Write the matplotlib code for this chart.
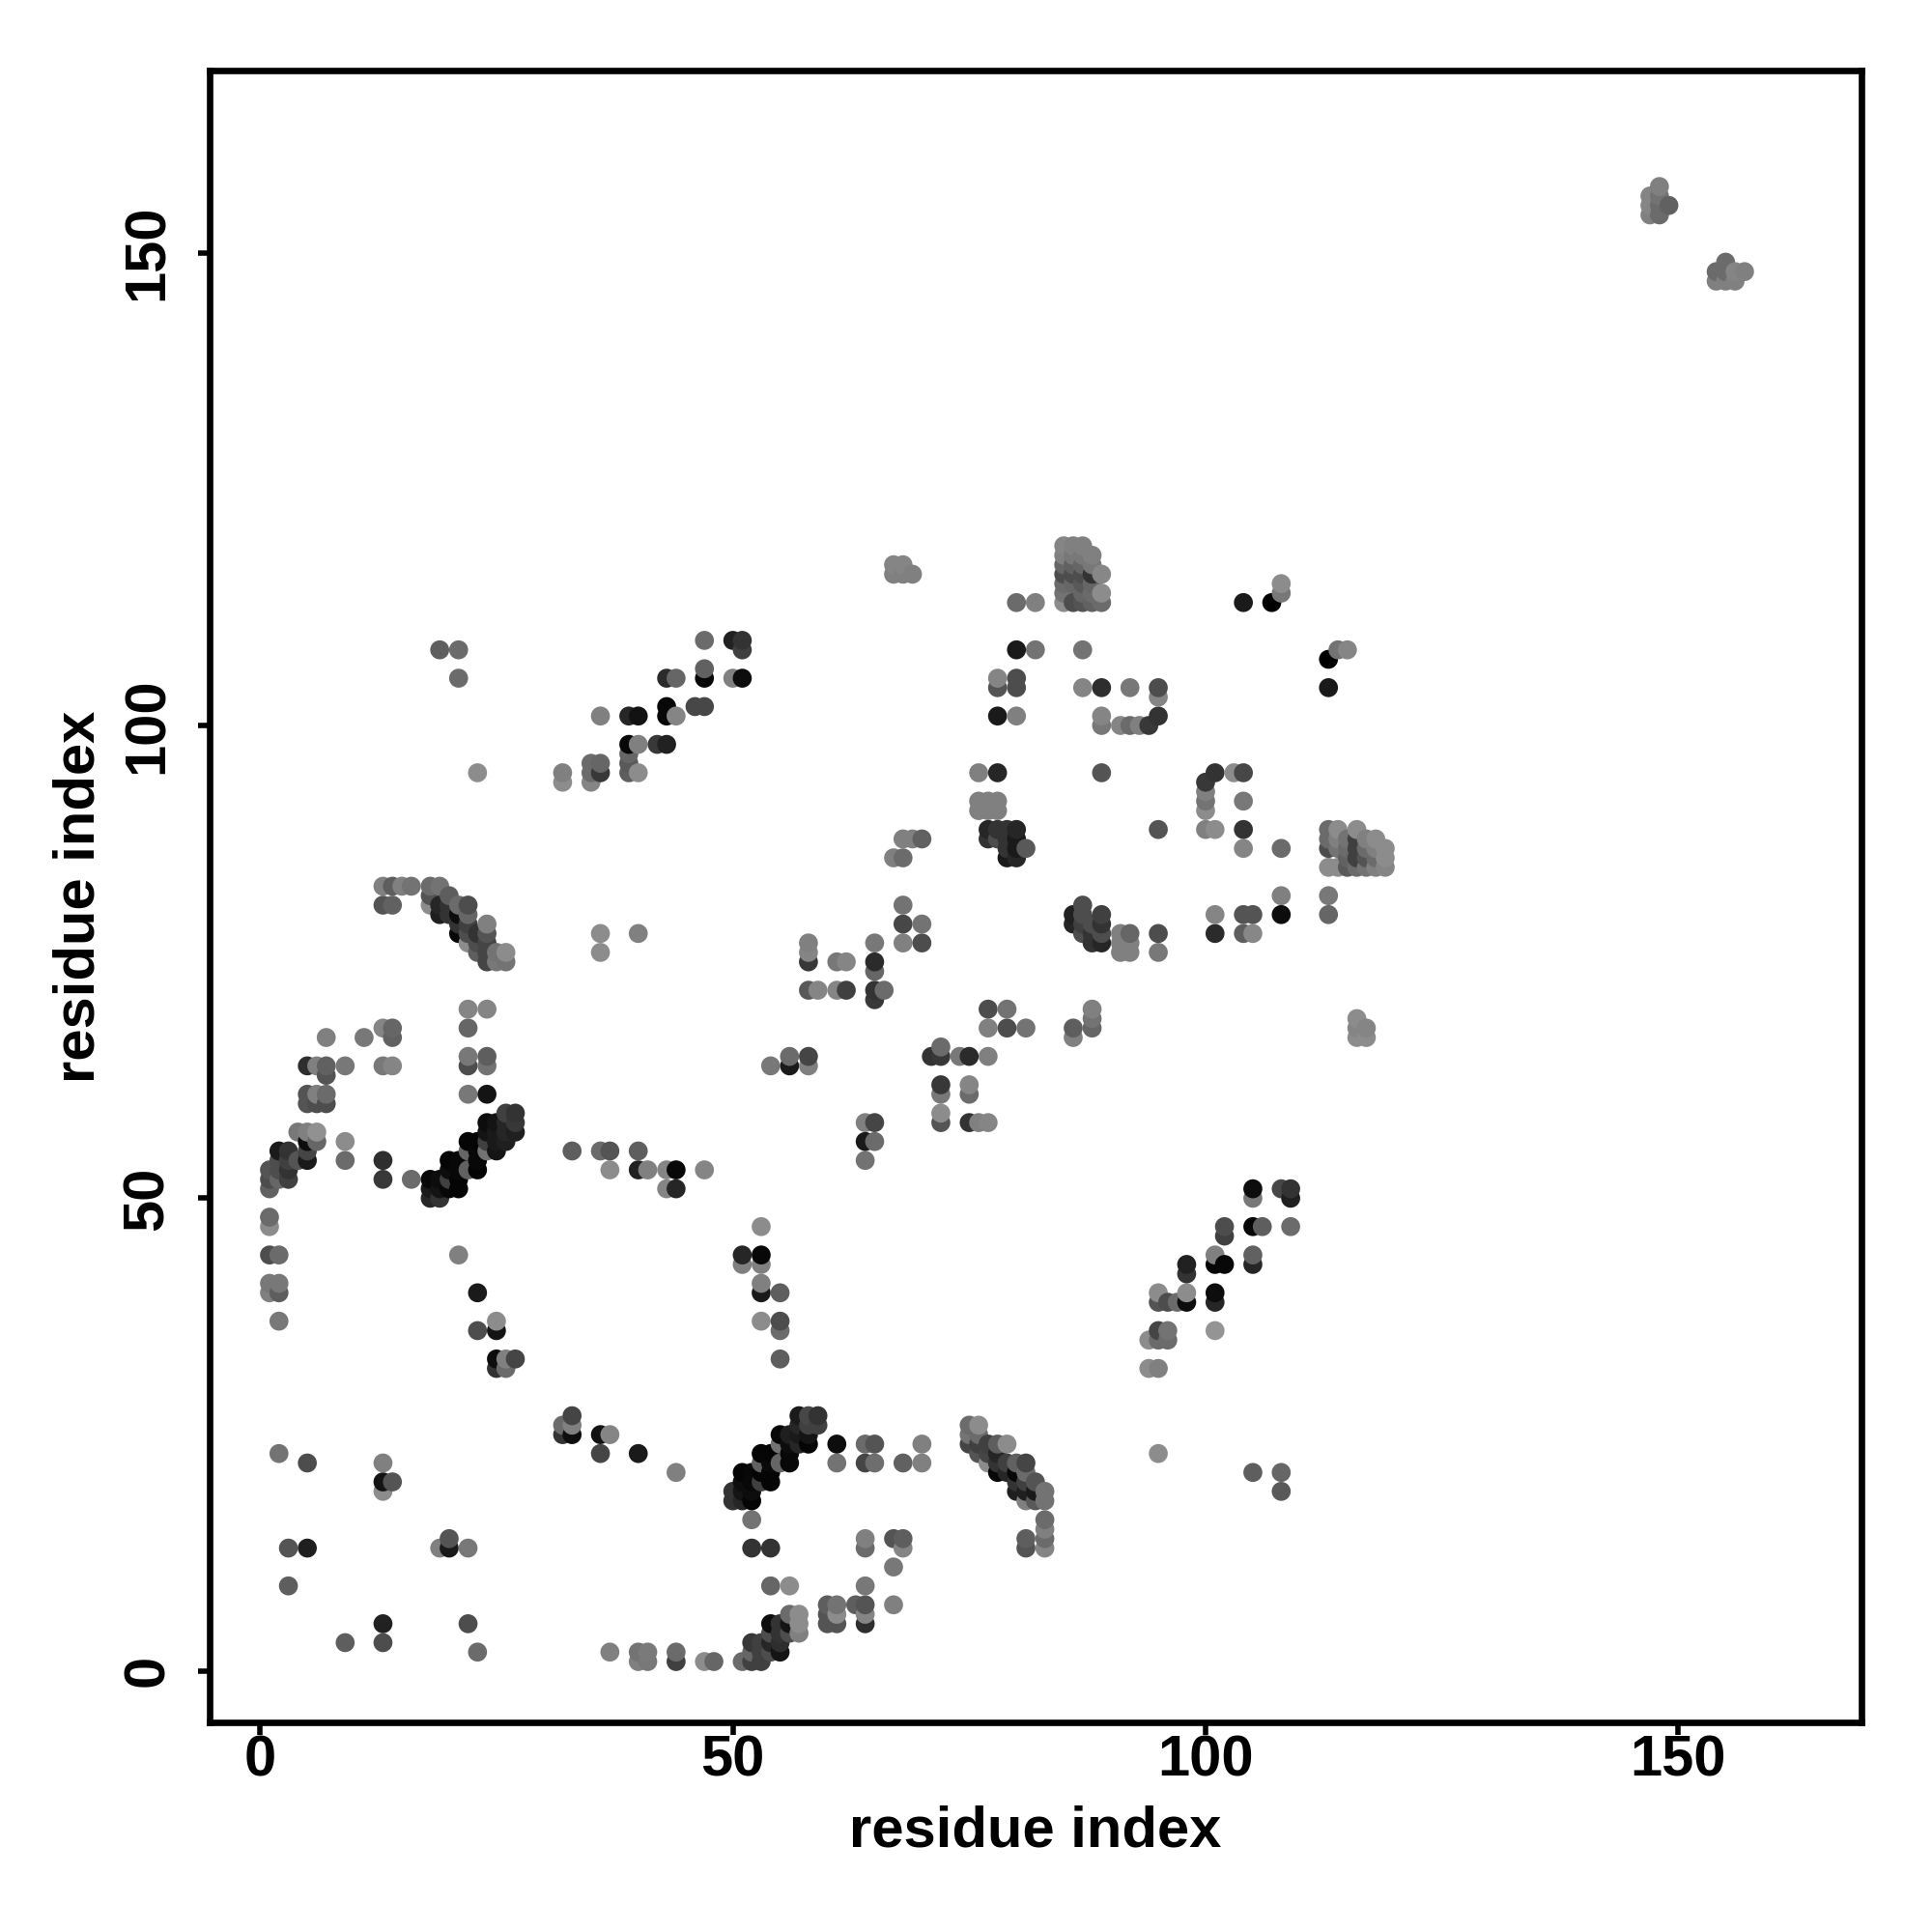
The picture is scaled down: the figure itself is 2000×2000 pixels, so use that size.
#!/usr/bin/env python3
"""Residue contact map, grey dots (x residue, y residue, grey level)."""
import matplotlib
matplotlib.use('Agg')
import matplotlib.pyplot as plt
import numpy as np

# ---- contacts by region: (residue i, residue j, grey level) ----
bottom_left = [
    (1, 48, .42), (1, 47, .55), (1, 44, .3), (2, 44, .42), (1, 41, .47), (2, 41, .47), (1, 40, .5), (2, 40, .37),
    (2, 37, .47), (21, 44, .5), (23, 40, .1), (23, 36, .3), (25, 37, .55), (25, 36, .08), (25, 33, .05), (25, 32, .2),
    (26, 33, .5), (26, 32, .42), (27, 33, .27), (2, 23, .45), (5, 22, .3), (13, 22, .5), (13, 20, .08), (14, 20, .33),
    (13, 19, .55), (3, 13, .33), (5, 13, .12), (20, 14, .33), (20, 13, .1), (19, 13, .5), (22, 13, .47), (3, 9, .37),
    (13, 5, .13), (13, 3, .3), (9, 3, .37), (22, 5, .3), (23, 2, .42),
]
upper_diag = [
    (13, 83, .5), (14, 83, .37), (15, 83, .5), (16, 83, .45), (18, 83, .42), (19, 83, .45), (13, 81, .33), (14, 81, .38),
    (20, 82, .37), (18, 82, .33), (18, 81, .55), (19, 81, .15), (20, 81, .2), (21, 81, .42), (22, 81, .3), (19, 80, .12),
    (20, 80, .2), (21, 80, .05), (22, 80, .4), (24, 79, .5), (21, 79, .2), (22, 79, .25), (21, 78, .03), (22, 78, .3),
    (23, 78, .2), (24, 78, .33), (22, 77, .55), (23, 77, .3), (24, 77, .27), (23, 76, .37), (24, 76, .27), (25, 76, .45),
    (26, 76, .55), (24, 75, .27), (25, 75, .47), (26, 75, .45),
]
left_mid = [
    (7, 67, .5), (11, 67, .47), (13, 68, .52), (14, 68, .4), (14, 67, .38), (5, 64, .18), (6, 64, .5), (7, 64, .38),
    (9, 64, .47), (13, 64, .47), (14, 64, .52), (7, 63, .33), (5, 61, .33), (6, 61, .5), (7, 61, .42), (5, 60, .33),
    (6, 60, .3), (7, 60, .3), (22, 70, .52), (24, 70, .52), (22, 68, .4), (22, 65, .47), (24, 65, .37), (22, 64, .3),
    (24, 64, .45), (22, 61, .47), (24, 61, .08),
    (4, 57, .47), (5, 57, .5), (6, 57, .57), (5, 56, .05), (6, 56, .4), (9, 56, .55), (2, 55, .1), (3, 55, .2),
    (5, 55, .27), (2, 54, .3), (3, 54, .25), (4, 54, .33), (5, 54, .1), (9, 54, .42), (13, 54, .18), (1, 53, .33),
    (2, 53, .3), (3, 53, .2), (1, 52, .3), (2, 52, .4), (3, 52, .25), (13, 52, .22), (16, 52, .42), (1, 51, .38),
]
black_band_a = [
    (26, 59, .25), (27, 59, .2), (24, 58, .05), (25, 58, .08), (26, 58, .15), (27, 58, .22), (24, 57, .08), (25, 57, .1),
    (26, 57, .15), (27, 57, .12), (22, 56, .02), (23, 56, .02), (24, 56, .25), (25, 56, .1), (26, 56, .12), (22, 55, .4),
    (23, 55, .03), (24, 55, .45), (25, 55, .08), (20, 54, .02), (21, 54, .03), (23, 54, .03), (20, 53, .05), (21, 53, .03),
    (22, 53, .38), (23, 53, .02), (18, 52, .03), (19, 52, .05), (20, 52, .25), (21, 52, .02), (18, 51, .1), (19, 51, .08),
    (20, 51, .03), (21, 51, .02), (18, 50, .15), (19, 50, .2),
]
strand_33_61 = [
    (33, 27, .27), (32, 26, .42), (33, 26, .5), (32, 25, .2), (33, 25, .05), (36, 25, .07), (37, 25, .52), (36, 23, .27),
    (40, 23, .1), (44, 21, .5), (52, 16, .45), (52, 13, .2), (54, 13, .2), (61, 24, .05), (61, 22, .45), (54, 9, .4),
    (56, 9, .55),
]
black_band_b = [
    (57, 27, .1), (58, 27, .28), (59, 27, .2), (57, 26, .15), (58, 26, .25), (59, 26, .25), (55, 25, .03), (56, 25, .12),
    (57, 25, .1), (58, 25, .08), (55, 24, .45), (56, 24, .05), (57, 24, .15), (58, 24, .02), (53, 23, .02), (54, 23, .02),
    (56, 23, .03), (53, 22, .38), (54, 22, .04), (55, 22, .4), (56, 22, .03), (51, 21, .02), (52, 21, .03), (53, 21, .02),
    (54, 21, .02), (51, 20, .05), (52, 20, .03), (53, 20, .25), (54, 20, .02), (50, 19, .2), (51, 19, .08), (52, 19, .05),
    (50, 18, .2), (51, 18, .15), (52, 18, .02),
]
bottom_strand = [
    (37, 2, .5), (40, 2, .45), (41, 2, .48), (44, 2, .42), (40, 1, .5), (41, 1, .47), (44, 1, .25), (47, 1, .55),
    (48, 1, .4), (51, 1, .42), (52, 1, .25), (53, 1, .25), (52, 2, .4), (53, 2, .25), (54, 2, .3), (55, 2, .08),
    (52, 3, .22), (53, 3, .25), (54, 3, .15), (55, 3, .18), (54, 4, .3), (55, 4, .2), (56, 4, .3), (57, 4, .5),
    (54, 5, .05), (55, 5, .2), (56, 5, .08), (57, 5, .55), (56, 6, .42), (57, 6, .55), (60, 7, .37), (61, 7, .45),
    (60, 6, .33), (61, 6, .55), (60, 5, .33), (61, 5, .33),
    (64, 24, .42), (65, 24, .33), (64, 22, .27), (65, 22, .43), (68, 22, .38), (70, 24, .5), (70, 22, .5), (64, 14, .5),
    (64, 13, .42), (67, 14, .33), (68, 14, .37), (68, 13, .52), (67, 11, .47), (64, 9, .47), (63, 7, .37), (64, 7, .33),
    (64, 6, .52), (64, 5, .18), (67, 7, .5),
]
hook_75_83 = [
    (75, 26, .42), (76, 26, .55), (75, 25, .45), (76, 25, .42), (75, 24, .27), (76, 24, .25), (77, 24, .25), (78, 24, .37),
    (79, 24, .55), (76, 23, .33), (77, 23, .27), (78, 23, .15), (77, 22, .55), (78, 22, .2), (79, 22, .25), (80, 22, .38),
    (81, 22, .27), (78, 21, .03), (79, 21, .15), (80, 21, .03), (81, 21, .42), (80, 20, .2), (81, 20, .25), (82, 20, .33),
    (80, 19, .12), (81, 19, .12), (82, 19, .1), (83, 19, .45), (81, 18, .5), (82, 18, .35), (83, 18, .45), (83, 16, .42),
    (83, 15, .5), (83, 14, .42), (83, 13, .52), (81, 14, .37), (81, 13, .33),
]
lower_right = [
    (105, 51, .05), (105, 50, .47), (108, 51, .28), (109, 51, .2), (109, 50, .12), (102, 47, .3), (102, 46, .25),
    (105, 47, .02), (106, 47, .37), (109, 47, .42), (101, 44, .5), (101, 43, .03), (102, 43, .03), (105, 44, .38),
    (105, 43, .15), (98, 43, .13), (98, 42, .2), (95, 40, .55), (95, 39, .33), (96, 39, .3), (97, 39, .42), (98, 40, .55),
    (98, 39, .05), (101, 40, .05), (101, 39, .15), (95, 36, .27), (96, 36, .45), (94, 35, .55), (95, 35, .42), (96, 35, .42),
    (101, 36, .58), (94, 32, .55), (95, 32, .5), (95, 23, .55), (105, 21, .37), (108, 21, .4), (108, 19, .35),
]
row_53_55 = [
    (33, 55, .37), (36, 55, .42), (37, 55, .33), (40, 55, .37), (37, 53, .55), (40, 53, .13), (41, 53, .5), (43, 53, .52),
    (44, 53, .03), (47, 53, .52), (43, 51, .52), (44, 51, .15), (53, 47, .55), (51, 44, .15), (53, 44, .03), (51, 43, .5),
    (53, 43, .5), (53, 41, .5), (53, 40, .1), (55, 40, .37), (53, 37, .55), (55, 37, .3), (55, 36, .42), (55, 33, .37),
]
centre = [
    (68, 81, .45), (68, 79, .28), (70, 79, .45), (68, 77, .5), (70, 77, .3), (58, 77, .5), (58, 76, .52), (58, 75, .22),
    (61, 75, .47), (62, 75, .52), (58, 72, .35), (59, 72, .52), (61, 72, .52), (62, 72, .25), (65, 77, .47), (65, 75, .17),
    (65, 74, .4), (65, 72, .2), (66, 72, .42), (65, 71, .22), (77, 70, .3), (79, 70, .45), (77, 68, .5), (79, 68, .3),
    (81, 68, .45), (71, 65, .2), (72, 65, .22), (72, 66, .42), (74, 65, .47), (75, 65, .17), (77, 65, .5), (86, 68, .37),
    (86, 67, .5), (54, 64, .47), (56, 65, .42), (56, 64, .1), (58, 65, .27), (58, 64, .5), (72, 62, .22), (72, 61, .47),
    (75, 62, .52), (75, 61, .42), (72, 59, .55), (72, 58, .33), (75, 58, .2), (76, 58, .5), (77, 58, .52), (64, 58, .5),
    (65, 58, .27), (64, 56, .1), (65, 56, .42), (64, 54, .45), (88, 70, .5), (88, 69, .45), (88, 68, .4),
]
top_blob = [
    (85, 119, .52), (85, 118, .5), (85, 117, .4), (85, 116, .3), (85, 115, .42), (85, 114, .45), (85, 113, .55),
    (86, 119, .5), (86, 118, .47), (86, 117, .38), (86, 116, .3), (86, 115, .4), (86, 113, .3), (87, 119, .5),
    (87, 118, .47), (87, 117, .4), (87, 116, .3), (87, 115, .35), (87, 114, .4), (87, 113, .33), (88, 118, .5),
    (88, 117, .47), (88, 116, .2), (88, 115, .4), (88, 114, .42), (88, 113, .38), (89, 116, .53), (89, 114, .55), (89, 113, .42),
]
upper_right = [
    (104, 113, .1), (107, 113, .0), (108, 115, .55), (108, 114, .47), (87, 108, .45), (113, 107, .0), (114, 108, .45),
    (115, 108, .52), (113, 104, .1), (87, 104, .52), (89, 104, .18), (92, 104, .47), (95, 104, .3), (95, 103, .52),
    (89, 101, .52), (89, 100, .47), (91, 100, .52), (92, 100, .42), (93, 100, .5), (94, 100, .22), (95, 101, .2), (89, 95, .33),
    (101, 95, .2), (100, 94, .22), (100, 93, .5), (100, 92, .45), (100, 91, .55), (103, 95, .55), (104, 95, .28),
    (104, 92, .47), (95, 89, .33), (100, 89, .5), (101, 89, .55), (104, 89, .2), (104, 87, .52), (108, 87, .42),
    (108, 82, .5), (113, 82, .47), (108, 80, .05), (113, 80, .4), (101, 80, .52), (104, 80, .33), (105, 80, .33),
    (101, 78, .17), (104, 78, .37), (105, 78, .53), (95, 78, .3), (95, 76, .47),
]
right_blob = [
    (113, 89, .42), (113, 88, .42), (113, 87, .3), (113, 85, .55), (114, 89, .55), (114, 88, .5), (114, 87, .45),
    (114, 85, .55), (115, 88, .45), (115, 87, .42), (115, 86, .38), (115, 85, .35), (116, 89, .55), (116, 88, .25),
    (116, 87, .25), (116, 86, .25), (116, 85, .42), (117, 88, .5), (117, 87, .42), (117, 86, .33), (117, 85, .45),
    (118, 88, .55), (118, 87, .5), (118, 86, .42), (118, 85, .5), (119, 87, .55), (119, 86, .55), (119, 85, .52),
    (116, 69, .55), (116, 68, .52), (116, 67, .55), (117, 68, .52), (117, 67, .55),
]
top_strand = [
    (47, 109, .42), (50, 109, .13), (51, 109, .2), (51, 108, .25), (43, 105, .17), (44, 105, .4), (47, 106, .38),
    (47, 105, .03), (50, 105, .5), (51, 105, .05), (36, 101, .5), (39, 101, .15), (40, 101, .07), (43, 102, .03),
    (43, 101, .03), (44, 101, .52), (46, 102, .28), (47, 102, .28), (39, 98, .03), (40, 98, .5), (42, 98, .22),
    (43, 98, .13), (39, 97, .4), (39, 96, .35), (39, 95, .37), (40, 95, .55), (35, 96, .42), (36, 96, .4), (35, 95, .42),
    (36, 95, .22), (35, 94, .52), (32, 95, .5), (32, 94, .55), (19, 108, .37), (21, 108, .42), (21, 105, .42),
    (23, 95, .55), (36, 78, .55), (36, 76, .55), (40, 78, .5),
]
far_corner = [
    (148, 157, .5), (147, 156, .52), (148, 156, .45), (147, 155, .52), (148, 155, .42), (149, 155, .38), (147, 154, .5),
    (148, 154, .42), (155, 149, .42), (154, 148, .42), (155, 148, .42), (156, 148, .52), (157, 148, .5), (154, 147, .5),
    (155, 147, .5), (156, 147, .5),
]
mid_upper = [
    (67, 86, .5), (68, 86, .42), (68, 88, .5), (69, 88, .5), (70, 88, .38), (67, 117, .52), (68, 117, .52), (67, 116, .5),
    (68, 116, .5), (69, 116, .5), (80, 113, .42), (82, 113, .5), (80, 108, .1), (82, 108, .45), (80, 105, .3), (80, 104, .3),
    (78, 105, .52), (78, 104, .33), (78, 101, .1), (80, 101, .5), (76, 95, .5), (78, 95, .15), (76, 92, .5), (77, 92, .5),
    (78, 92, .5), (76, 91, .5), (77, 91, .5), (78, 91, .5), (77, 89, .15), (78, 89, .2), (79, 89, .2), (80, 89, .15),
    (77, 88, .2), (78, 88, .3), (79, 88, .2), (80, 88, .1), (79, 87, .2), (80, 87, .1), (81, 87, .35), (79, 86, .1),
    (80, 86, .15), (87, 81, .3), (86, 80, .13), (87, 80, .3), (89, 80, .25), (86, 79, .15), (87, 79, .25), (88, 79, .3),
    (89, 79, .2), (87, 78, .3), (88, 78, .2), (89, 78, .3), (88, 77, .2), (89, 77, .15), (91, 78, .5), (92, 78, .4),
    (91, 77, .5), (92, 77, .5), (91, 76, .5), (92, 76, .5),
]

ticks = [0, 50, 100, 150]
xlims = (-5.35, 169.4)
ylims = (-5.45, 169.3)

pts = np.array(bottom_left + upper_diag + left_mid + black_band_a + strand_33_61 + black_band_b
               + bottom_strand + hook_75_83 + lower_right + row_53_55 + centre + top_blob
               + upper_right + right_blob + top_strand + far_corner + mid_upper)
# later residues sit on top, as in the original
pts = pts[np.lexsort((pts[:, 1], pts[:, 0]))]

plt.rcParams['font.family'] = ['Liberation Sans', 'DejaVu Sans']
plt.rcParams['font.weight'] = 'bold'

fig = plt.figure(figsize=(10, 10), dpi=200)
ax = fig.add_axes([170 / 1568, 170 / 1568, 1341 / 1568, 1341 / 1568])
ax.scatter(pts[:, 0], pts[:, 1], s=50, c=[str(g) for g in pts[:, 2]], linewidths=0, zorder=3)

ax.set_xlim(*xlims)
ax.set_ylim(*ylims)
ax.set_xticks(ticks)
ax.set_yticks(ticks)
ax.tick_params(axis='x', length=4.5, width=2, labelsize=21.5, pad=0)
ax.tick_params(axis='y', length=4.5, width=2, labelsize=21.5, pad=8.5)
for lab in ax.get_yticklabels():
    lab.set_rotation(90)
    lab.set_va('center')
for s in ax.spines.values():
    s.set_linewidth(2.4)
ax.set_xlabel('residue index', fontsize=21.5, fontweight='bold', labelpad=6.5)
ax.set_ylabel('residue index', fontsize=21.5, fontweight='bold', labelpad=6)

fig.savefig('out.png', dpi=200, facecolor='white')
